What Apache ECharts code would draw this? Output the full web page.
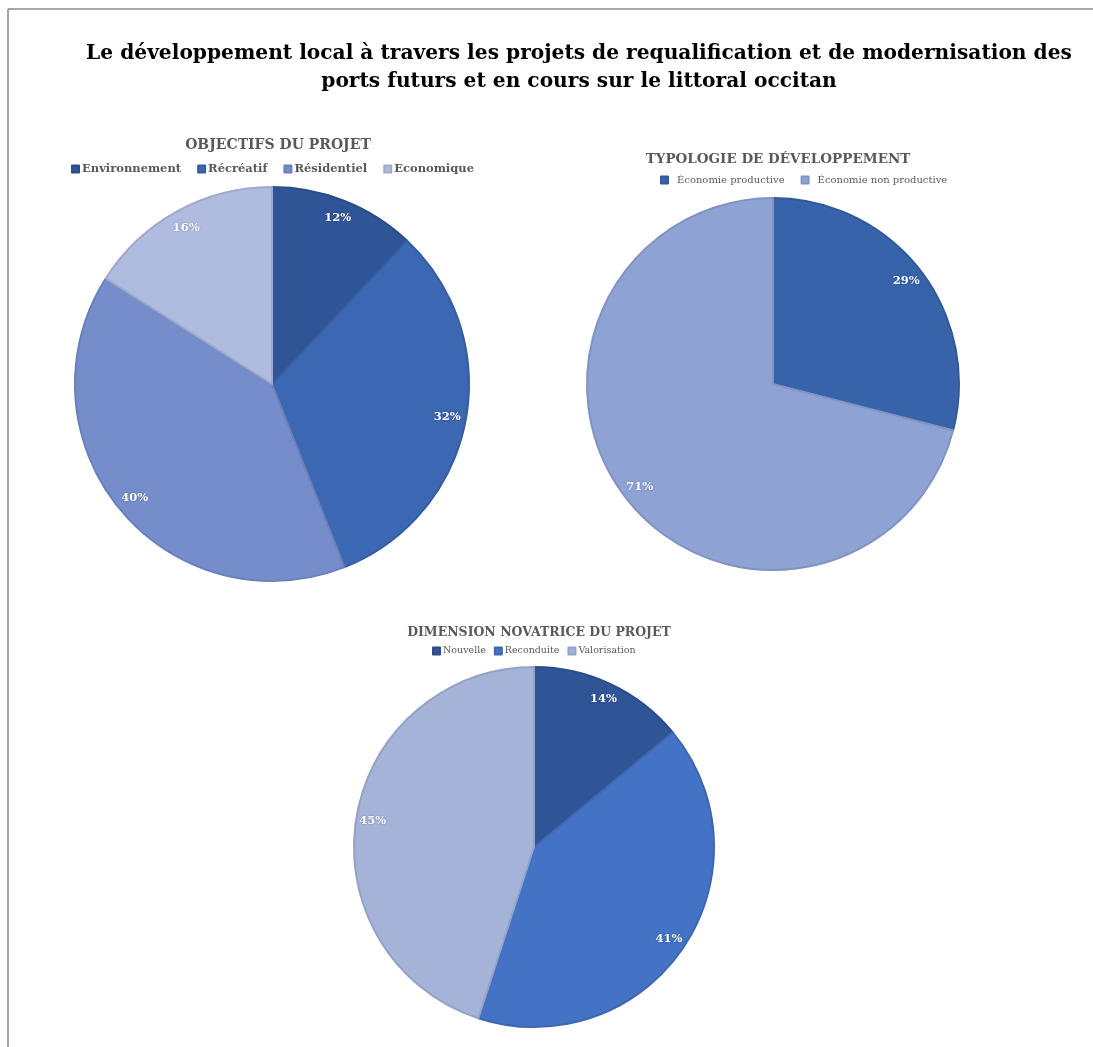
<!DOCTYPE html>
<html><head><meta charset="utf-8">
<script src="https://cdn.jsdelivr.net/npm/echarts@6/dist/echarts.min.js"></script>
<style>html,body{margin:0;padding:0;background:#fff}#c{width:1093px;height:1047px}</style>
</head><body><div id="c"></div>
<script>
const mainTitle = "Le développement local à travers les projets de requalification et de modernisation des\nports futurs et en cours sur le littoral occitan";

const titleObjectifs = "OBJECTIFS DU PROJET";
const catObjectifs = ["Environnement", "Récréatif", "Résidentiel", "Economique"];
const valObjectifs = [12, 32, 40, 16];

const titleTypologie = "TYPOLOGIE DE DÉVELOPPEMENT";
const catTypologie = ["Économie productive", "Économie non productive"];
const valTypologie = [29, 71];

const titleDimension = "DIMENSION NOVATRICE DU PROJET";
const catDimension = ["Nouvelle", "Reconduite", "Valorisation"];
const valDimension = [14, 41, 45];

const SERIF = "'DejaVu Serif', 'Liberation Serif', serif";

function build(cats, vals, colors, borders) {
  return cats.map((n, i) => ({
    name: n, value: vals[i],
    itemStyle: { color: colors[i], borderColor: borders[i] }
  }));
}
function labelsOnly(cats, vals) {
  return cats.map((n, i) => ({ name: n, value: vals[i] }));
}

const pies = [
  { cats: catObjectifs, vals: valObjectifs, center: [272, 384], r: 197,
    colors: ['#2F5597', '#3B67B3', '#758DCB', '#B0BCDF'],
    borders: ['#2A4D88', '#355DA2', '#6A80B9', '#9FAACB'] },
  { cats: catTypologie, vals: valTypologie, center: [773, 384], r: 186,
    colors: ['#3763AA', '#8FA2D4'],
    borders: ['#32599A', '#8193C0'] },
  { cats: catDimension, vals: valDimension, center: [534, 847], r: 180,
    colors: ['#2F5597', '#4472C4', '#A5B3D9'],
    borders: ['#2A4D88', '#3D67B1', '#95A2C5'] }
];

const series = [];
pies.forEach(p => {
  series.push({
    type: 'pie', center: p.center, radius: [0, p.r], startAngle: 90, clockwise: true,
    data: build(p.cats, p.vals, p.colors, p.borders),
    itemStyle: { borderWidth: 2 },
    label: { show: false }, labelLine: { show: false },
    emphasis: { scale: false }, animation: false
  });
});
pies.forEach(p => {
  series.push({
    type: 'pie', center: p.center, radius: [p.r * 0.78, p.r], startAngle: 90, clockwise: true,
    data: labelsOnly(p.cats, p.vals), silent: true,
    itemStyle: { color: 'rgba(0,0,0,0)', borderWidth: 0 },
    label: { show: true, position: 'inside', formatter: '{c}%', color: '#fff',
      fontFamily: SERIF, fontWeight: 'bold', fontSize: 11.5,
      textShadowColor: 'rgba(0,0,0,0.35)', textShadowBlur: 2 },
    labelLine: { show: false }, emphasis: { disabled: true }, animation: false,
    tooltip: { show: false }
  });
});

const legendAnchors = [272, 804, 534];

const option = {
  animation: false,
  title: [
    { text: mainTitle, left: 574, textAlign: 'center', top: 35,
      textStyle: { fontFamily: SERIF, fontWeight: 'bold', fontSize: 20.2, color: '#000', lineHeight: 28 } },
    { text: titleObjectifs, left: 273, textAlign: 'center', top: 133,
      textStyle: { fontFamily: SERIF, fontWeight: 'bold', fontSize: 14, color: '#595959' } },
    { text: titleTypologie, left: 773, textAlign: 'center', top: 147,
      textStyle: { fontFamily: SERIF, fontWeight: 'bold', fontSize: 13.5, color: '#595959' } },
    { text: titleDimension, left: 534, textAlign: 'center', top: 621,
      textStyle: { fontFamily: SERIF, fontWeight: 'bold', fontSize: 12.5, color: '#595959' } }
  ],
  legend: [
    { data: catObjectifs, left: 0, top: 158, orient: 'horizontal', icon: 'rect',
      itemWidth: 7, itemHeight: 7, itemGap: 16, selectedMode: false,
      textStyle: { fontFamily: SERIF, fontWeight: 'bold', fontSize: 11.5, color: '#595959', padding: [0, 0, 0, -2] } },
    { data: catTypologie, left: 0, top: 170, icon: 'rect',
      itemWidth: 7, itemHeight: 7, itemGap: 16, selectedMode: false,
      textStyle: { fontFamily: SERIF, fontSize: 10, color: '#595959', padding: [0, 0, 0, 4] } },
    { data: catDimension, left: 0, top: 641, icon: 'rect',
      itemWidth: 7, itemHeight: 7, itemGap: 8, selectedMode: false,
      textStyle: { fontFamily: SERIF, fontSize: 9.5, color: '#595959', padding: [0, 0, 0, -2] } }
  ],
  graphic: [
    { type: 'line', shape: { x1: 8, y1: 9, x2: 1093, y2: 9 }, style: { stroke: '#8a8a8a', lineWidth: 1.5 } },
    { type: 'line', shape: { x1: 8, y1: 9, x2: 8, y2: 1047 }, style: { stroke: '#8a8a8a', lineWidth: 1.5 } }
  ],
  series: series
};

const chart = echarts.init(document.getElementById('c'), null, { renderer: 'canvas' });
chart.setOption(option);
// center legends horizontally on their anchor points
const model = chart.getModel();
chart.setOption({ legend: legendAnchors.map((anchor, i) => {
  const comp = model.getComponent('legend', i);
  const view = chart.getViewOfComponentModel(comp);
  const rect = view.group.getBoundingRect();
  return { left: Math.round(anchor - rect.width / 2) };
}) });
</script></body></html>
